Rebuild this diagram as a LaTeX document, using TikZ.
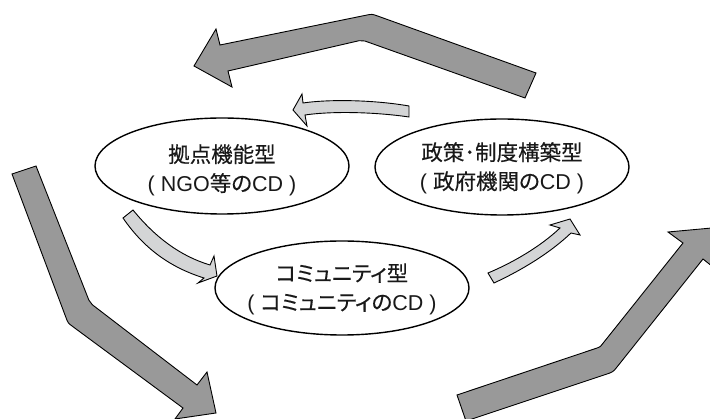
\documentclass[tikz,border=0pt]{standalone}
\usepackage{fontspec}
\setmainfont{Liberation Sans}
\newfontfamily\jp{Noto Sans CJK JP}[RawFeature=+palt,FakeBold=0.3]
\usetikzlibrary{shapes.geometric}
\definecolor{bigfill}{RGB}{153,153,153}
\definecolor{smallfill}{RGB}{212,213,214}
\begin{document}
\begin{tikzpicture}[x=1pt,y=-1pt,
  bigarrow/.style={fill=bigfill,draw=black,line width=0.9pt,line join=miter},
  smallarrow/.style={fill=smallfill,draw=black,line width=0.9pt,line join=miter},
  cdellipse/.style={ellipse,draw=black,line width=1.4pt,fill=white,
    minimum width=254pt,minimum height=96pt,inner sep=0pt},
  cdtext/.style={align=center,inner sep=0pt,text=black!90,
    font=\fontsize{21.5}{29}\selectfont}]
\useasboundingbox (0,0) rectangle (710,419);

% big outer arrows
\draw[bigarrow] (536,73) -- (377.6,16) .. controls (372,14) .. (366.1,15.2)
  -- (220,45) -- (216,29) -- (194,66) -- (232,87) -- (228,71)
  -- (359.1,40.7) .. controls (362,40) .. (364.8,41) -- (525,98) -- cycle;

\draw[bigarrow] (12,174) -- (36,166)
  -- (88.9,300.2) .. controls (90,303) .. (92.4,304.8)
  -- (197,385) -- (207,372) -- (216,413) -- (175,419) -- (183,408)
  -- (72.8,326.6) .. controls (68,323) .. (65.9,317.4) -- cycle;

\draw[bigarrow] (457,395) -- (596.2,348.3) .. controls (600,347) .. (602.5,343.9)
  -- (683,243) -- (668,232) -- (711.7,228) -- (718,271) -- (703,259)
  -- (617.4,366.5) .. controls (613,372) .. (606.4,374.2)
  -- (466,421) -- cycle;

% ellipses
\node[cdellipse] (kyoten) at (222,166) {};
\node[cdellipse] (seisaku) at (502,167) {};
\node[cdellipse,minimum height=94pt] (community) at (342,288) {};
\node[cdtext] (kyotenlabel) at ([yshift=-4pt]kyoten.center)
  {{\jp 拠点機能型}\\( NGO{\jp 等の}CD )};
\node[cdtext] (seisakulabel) at ([yshift=-1pt]seisaku.center)
  {{\jp 政策･制度構築型}\\( {\jp 政府機関の}CD )};
\node[cdtext] (communitylabel) at ([yshift=-1pt]community.center)
  {{\jp コミュニティ型}\\( {\jp コミュニティの}CD )};

% small curved arrows
\draw[smallarrow] (409,106) .. controls (375,100) and (330,99) .. (303,103)
  -- (302,94) -- (293,110) -- (307,126) -- (305,115)
  .. controls (332,111) and (375,112) .. (409,117) -- cycle;

\draw[smallarrow] (133,210) .. controls (155,237) and (180,256) .. (210,265)
  -- (214,256) -- (217,276) -- (198,283) -- (204,278)
  .. controls (172,268) and (145,250) .. (123,218) -- cycle;

\draw[smallarrow] (488,273) .. controls (512,263) and (540,247) .. (560,228)
  -- (550,225) -- (570,219) -- (580,235) -- (571,233)
  .. controls (550,253) and (522,270) .. (494,283) -- cycle;
\end{tikzpicture}
\end{document}
